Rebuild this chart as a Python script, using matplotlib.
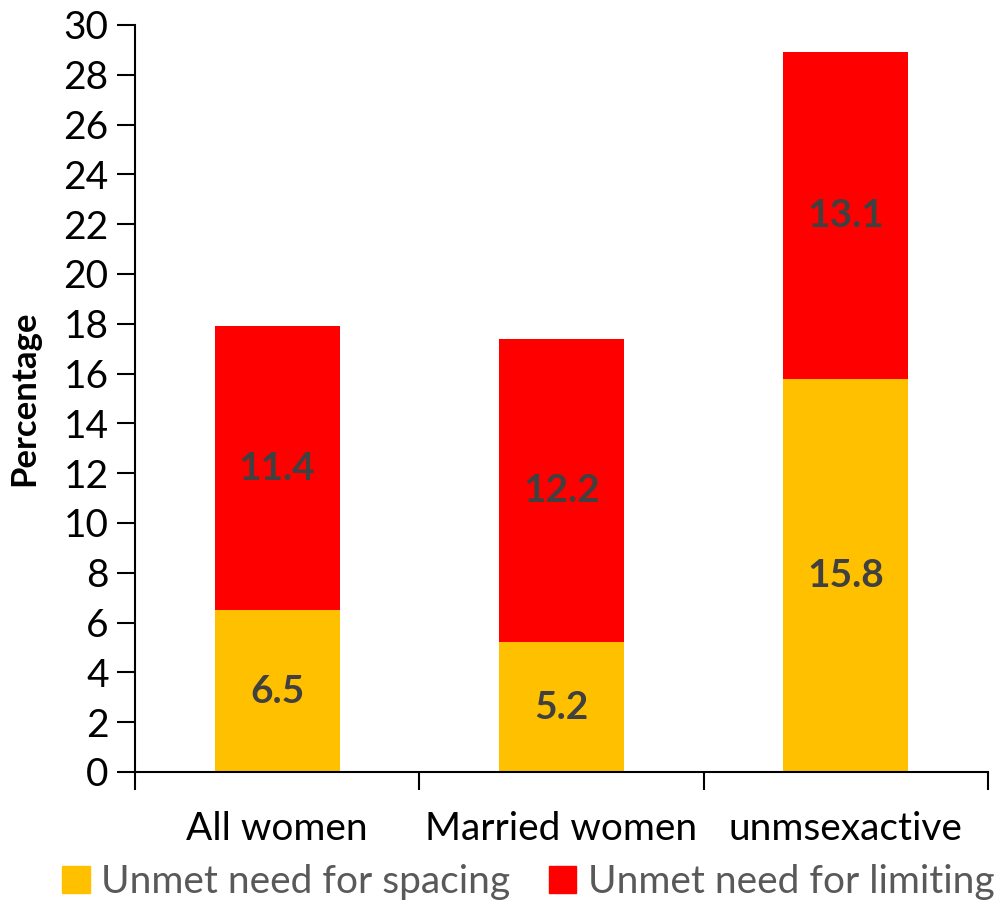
import matplotlib
matplotlib.use("Agg")
import matplotlib.pyplot as plt
from matplotlib.patches import Patch

categories = ["All women", "Married women", "unmsexactive"]
spacing = [6.5, 5.2, 15.8]
limiting = [11.4, 12.2, 13.1]
series_names = ["Unmet need for spacing", "Unmet need for limiting"]
yticks = list(range(0, 31, 2))

plt.rcParams['font.family'] = ['Lato', 'DejaVu Sans']

fig = plt.figure(figsize=(10.01, 9.05), dpi=100)
ax = fig.add_axes([0.1349, 0.147, 0.852, 0.8254])

gold = "#FFC000"
red = "#FF0000"
x = list(range(len(categories)))
w = 0.44
ax.bar(x, spacing, width=w, color=gold)
ax.bar(x, limiting, width=w, bottom=spacing, color=red)

for i in x:
    ax.text(i, spacing[i] / 2, f"{spacing[i]}", ha="center", va="center",
            fontsize=28, fontweight="bold", color="#404040")
    ax.text(i, spacing[i] + limiting[i] / 2, f"{limiting[i]}", ha="center", va="center",
            fontsize=28, fontweight="bold", color="#404040")

ax.set_xlim(-0.5, 2.5)
ax.set_ylim(0, 30)
ax.set_yticks(yticks)
ax.tick_params(axis='y', labelsize=28, length=13, width=1.5, pad=6)
ax.set_xticks([-0.5, 0.5, 1.5, 2.5])
ax.set_xticklabels([])
ax.tick_params(axis='x', which='major', length=13, width=1.5)
ax.set_xticks(x, minor=True)
ax.set_xticklabels(categories, minor=True)
ax.tick_params(axis='x', which='minor', length=0, labelsize=28, pad=28)

for s in ["top", "right"]:
    ax.spines[s].set_visible(False)
ax.spines["left"].set_linewidth(1.5)
ax.spines["bottom"].set_linewidth(1.5)

ax.set_ylabel("Percentage", fontsize=25, fontweight="bold", labelpad=17)

handles = [Patch(color=gold), Patch(color=red)]
leg = fig.legend(handles, series_names, loc="center", bbox_to_anchor=(0.528, 0.025),
                 ncol=2, frameon=False, fontsize=28, handlelength=0.7, handleheight=0.7,
                 handletextpad=0.3, columnspacing=1.0)
for t in leg.get_texts():
    t.set_color("#595959")

fig.savefig("out.png", dpi=100)
